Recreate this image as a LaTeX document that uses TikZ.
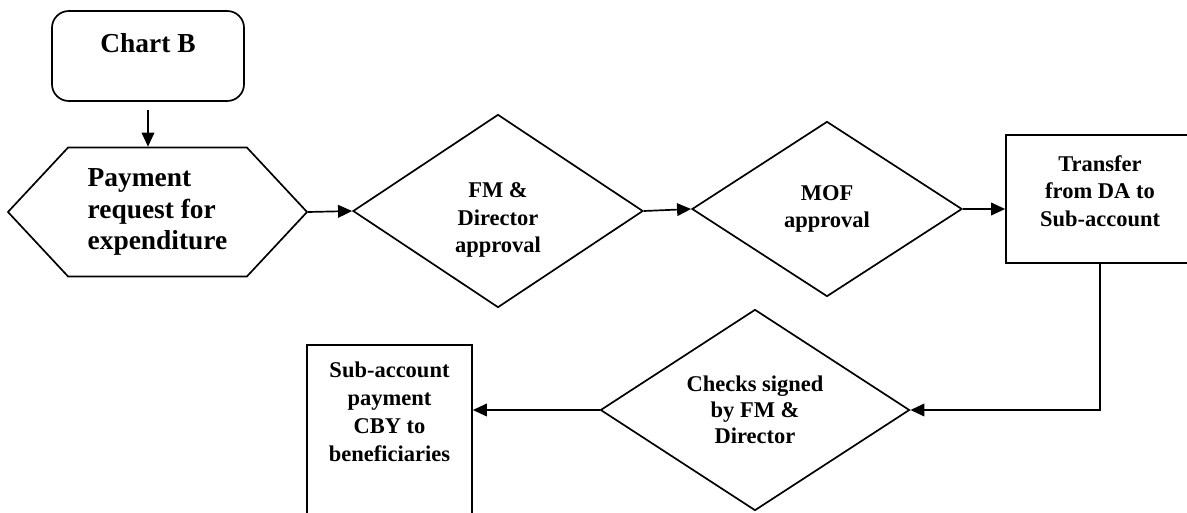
\documentclass[tikz,border=0pt]{standalone}
\usepackage{fontspec}
\setmainfont{Liberation Serif}
\usetikzlibrary{arrows.meta,shapes.geometric,shapes.symbols}

\begin{document}
\begin{tikzpicture}[
  x=0.025cm, y=-0.025cm,
  box/.style={draw, line width=1.2pt, align=center, inner sep=2pt,
              font=\fontsize{16}{19.5}\selectfont\bfseries},
  start/.style={box, rounded corners=12pt, minimum width=4.8cm,
                minimum height=2.25cm, font=\fontsize{19.5}{23}\selectfont\bfseries},
  hexa/.style={box, signal, signal to=east and west, signal pointer angle=94,
               minimum width=7.475cm, minimum height=3.225cm, align=left,
               font=\fontsize{19.5}{22.7}\selectfont\bfseries},
  decision/.style={box, diamond, aspect=1.5, inner sep=0pt},
  txt/.style={align=center, font=\fontsize{16}{19.8}\selectfont\bfseries},
  flow/.style={-{Triangle[length=10pt,width=9pt]}, line width=1.2pt}
]
\useasboundingbox (0,0) rectangle (1187,512);
\clip (0,0) rectangle (1187,512);

%% ===== top row =====
\node[start] (chart) at (148,56) {Chart B\\[-11pt]\strut};
\node[hexa] (req) at (157.5,212) {Payment\\request for\\expenditure};
\node[decision, minimum width=7.25cm, minimum height=4.825cm] (fm) at (498,211)
  {\mbox{}\\[4pt]FM \&\\Director\\approval};
\node[decision, minimum width=6.75cm, minimum height=4.375cm] (mof) at (827,209)
  {MOF\\approval};
\node[box, minimum width=4.7cm, minimum height=3.2cm] (trans) at (1100,199)
  {Transfer\\from DA to\\Sub-account\\[-8pt]\mbox{}};

%% ===== bottom row =====
\node[decision, minimum width=7.725cm, minimum height=5.025cm,
      font=\fontsize{16}{18.4}\selectfont\bfseries] (chk) at (755,410)
  {Checks signed\\by FM \&\\Director};
\node[box, minimum width=4.125cm, minimum height=5cm] (pay) at (389.5,445) {};
\node[txt, anchor=north] (payText) at (389.5,357)
  {Sub-account\\payment\\CBY to\\beneficiaries};

%% ===== arrows =====
\draw[flow, shorten <=6pt] (chart.south) -- (chart.south |- req.north);
\draw[flow] (req.east) -- (fm.west);
\draw[flow] (fm.east) -- (mof.west);
\draw[flow] (mof.east) -- (mof.east -| trans.west);
\draw[flow] (trans.south) |- (chk.east);
\draw[flow] (chk.west) -- (chk.west -| pay.east);

\end{tikzpicture}
\end{document}
